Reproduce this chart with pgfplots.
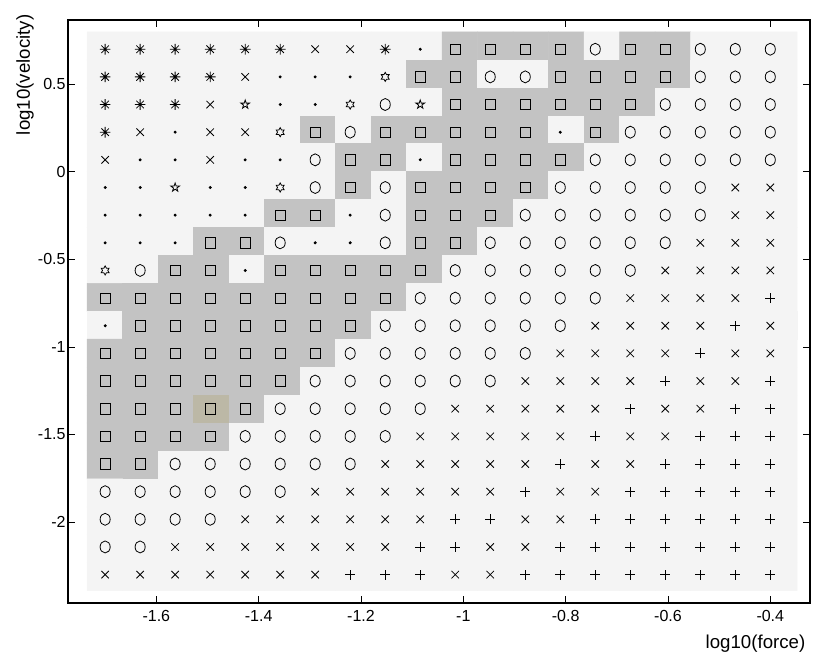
\documentclass[border=0pt]{standalone}
\usepackage{fontspec}
\setmainfont{Liberation Sans}
\usepackage{pgfplots}
\pgfplotsset{compat=1.18}
\usepackage{pgfplotstable}

\pgfdeclareplotmark{mast}{%
  \pgfpathmoveto{\pgfqpoint{-\pgfplotmarksize}{0pt}}\pgfpathlineto{\pgfqpoint{\pgfplotmarksize}{0pt}}%
  \pgfpathmoveto{\pgfqpoint{0pt}{-\pgfplotmarksize}}\pgfpathlineto{\pgfqpoint{0pt}{\pgfplotmarksize}}%
  \pgfpathmoveto{\pgfpointpolar{45}{\pgfplotmarksize}}\pgfpathlineto{\pgfpointpolar{225}{\pgfplotmarksize}}%
  \pgfpathmoveto{\pgfpointpolar{135}{\pgfplotmarksize}}\pgfpathlineto{\pgfpointpolar{315}{\pgfplotmarksize}}%
  \pgfusepathqstroke}
\pgfdeclareplotmark{mcross}{%
  \pgfpathmoveto{\pgfqpoint{-\pgfplotmarksize}{-\pgfplotmarksize}}\pgfpathlineto{\pgfqpoint{\pgfplotmarksize}{\pgfplotmarksize}}%
  \pgfpathmoveto{\pgfqpoint{-\pgfplotmarksize}{\pgfplotmarksize}}\pgfpathlineto{\pgfqpoint{\pgfplotmarksize}{-\pgfplotmarksize}}%
  \pgfusepathqstroke}
\pgfdeclareplotmark{mplus}{%
  \pgfpathmoveto{\pgfqpoint{-\pgfplotmarksize}{0pt}}\pgfpathlineto{\pgfqpoint{\pgfplotmarksize}{0pt}}%
  \pgfpathmoveto{\pgfqpoint{0pt}{-\pgfplotmarksize}}\pgfpathlineto{\pgfqpoint{0pt}{\pgfplotmarksize}}%
  \pgfusepathqstroke}
\pgfdeclareplotmark{mell}{%
  \pgfpathellipse{\pgfpointorigin}{\pgfqpoint{0.84\pgfplotmarksize}{0pt}}{\pgfqpoint{0pt}{\pgfplotmarksize}}%
  \pgfusepathqstroke}
\pgfdeclareplotmark{mpent}{%
  \pgfpathmoveto{\pgfpointpolar{90}{\pgfplotmarksize}}%
  \pgfpathlineto{\pgfpointpolar{126}{0.382\pgfplotmarksize}}%
  \pgfpathlineto{\pgfpointpolar{162}{\pgfplotmarksize}}%
  \pgfpathlineto{\pgfpointpolar{198}{0.382\pgfplotmarksize}}%
  \pgfpathlineto{\pgfpointpolar{234}{\pgfplotmarksize}}%
  \pgfpathlineto{\pgfpointpolar{270}{0.382\pgfplotmarksize}}%
  \pgfpathlineto{\pgfpointpolar{306}{\pgfplotmarksize}}%
  \pgfpathlineto{\pgfpointpolar{342}{0.382\pgfplotmarksize}}%
  \pgfpathlineto{\pgfpointpolar{18}{\pgfplotmarksize}}%
  \pgfpathlineto{\pgfpointpolar{54}{0.382\pgfplotmarksize}}%
  \pgfpathclose\pgfusepathqstroke}
\pgfdeclareplotmark{mhex}{%
  \pgfpathmoveto{\pgfpointpolar{90}{\pgfplotmarksize}}%
  \pgfpathlineto{\pgfpointpolar{120}{0.577\pgfplotmarksize}}%
  \pgfpathlineto{\pgfpointpolar{150}{\pgfplotmarksize}}%
  \pgfpathlineto{\pgfpointpolar{180}{0.577\pgfplotmarksize}}%
  \pgfpathlineto{\pgfpointpolar{210}{\pgfplotmarksize}}%
  \pgfpathlineto{\pgfpointpolar{240}{0.577\pgfplotmarksize}}%
  \pgfpathlineto{\pgfpointpolar{270}{\pgfplotmarksize}}%
  \pgfpathlineto{\pgfpointpolar{300}{0.577\pgfplotmarksize}}%
  \pgfpathlineto{\pgfpointpolar{330}{\pgfplotmarksize}}%
  \pgfpathlineto{\pgfpointpolar{0}{0.577\pgfplotmarksize}}%
  \pgfpathlineto{\pgfpointpolar{30}{\pgfplotmarksize}}%
  \pgfpathlineto{\pgfpointpolar{60}{0.577\pgfplotmarksize}}%
  \pgfpathclose\pgfusepathqstroke}

% x y = symbol position; tx ty = tile centre; c = tile shade; s = symbol class
\pgfplotstableread{
x y tx ty c s
-1.7000 0.7000 -1.7006 0.7187 0 A
-1.6316 0.7000 -1.6312 0.7187 0 A
-1.5632 0.7000 -1.5619 0.7187 0 A
-1.4947 0.7000 -1.4925 0.7187 0 A
-1.4263 0.7000 -1.4231 0.7187 0 A
-1.3579 0.7000 -1.3537 0.7187 0 A
-1.2895 0.7000 -1.2843 0.7187 0 X
-1.2211 0.7000 -1.2150 0.7187 0 X
-1.1526 0.7000 -1.1456 0.7187 0 A
-1.0842 0.7000 -1.0762 0.7187 0 D
-1.0158 0.7000 -1.0068 0.7187 1 S
-0.9474 0.7000 -0.9374 0.7187 1 S
-0.8789 0.7000 -0.8681 0.7187 1 S
-0.8105 0.7000 -0.7987 0.7187 1 S
-0.7421 0.7000 -0.7293 0.7187 0 O
-0.6737 0.7000 -0.6599 0.7187 1 S
-0.6053 0.7000 -0.5906 0.7187 1 S
-0.5368 0.7000 -0.5212 0.7187 0 O
-0.4684 0.7000 -0.4518 0.7187 0 O
-0.4000 0.7000 -0.3824 0.7187 0 O
-1.7000 0.5421 -1.7006 0.5592 0 A
-1.6316 0.5421 -1.6312 0.5592 0 A
-1.5632 0.5421 -1.5619 0.5592 0 A
-1.4947 0.5421 -1.4925 0.5592 0 A
-1.4263 0.5421 -1.4231 0.5592 0 X
-1.3579 0.5421 -1.3537 0.5592 0 D
-1.2895 0.5421 -1.2843 0.5592 0 D
-1.2211 0.5421 -1.2150 0.5592 0 D
-1.1526 0.5421 -1.1456 0.5592 0 H
-1.0842 0.5421 -1.0762 0.5592 1 S
-1.0158 0.5421 -1.0068 0.5592 1 S
-0.9474 0.5421 -0.9374 0.5592 0 O
-0.8789 0.5421 -0.8681 0.5592 0 O
-0.8105 0.5421 -0.7987 0.5592 1 S
-0.7421 0.5421 -0.7293 0.5592 1 S
-0.6737 0.5421 -0.6599 0.5592 1 S
-0.6053 0.5421 -0.5906 0.5592 1 S
-0.5368 0.5421 -0.5212 0.5592 0 O
-0.4684 0.5421 -0.4518 0.5592 0 O
-0.4000 0.5421 -0.3824 0.5592 0 O
-1.7000 0.3842 -1.7006 0.3997 0 A
-1.6316 0.3842 -1.6312 0.3997 0 A
-1.5632 0.3842 -1.5619 0.3997 0 A
-1.4947 0.3842 -1.4925 0.3997 0 X
-1.4263 0.3842 -1.4231 0.3997 0 P
-1.3579 0.3842 -1.3537 0.3997 0 D
-1.2895 0.3842 -1.2843 0.3997 0 D
-1.2211 0.3842 -1.2150 0.3997 0 H
-1.1526 0.3842 -1.1456 0.3997 0 O
-1.0842 0.3842 -1.0762 0.3997 0 P
-1.0158 0.3842 -1.0068 0.3997 1 S
-0.9474 0.3842 -0.9374 0.3997 1 S
-0.8789 0.3842 -0.8681 0.3997 1 S
-0.8105 0.3842 -0.7987 0.3997 1 S
-0.7421 0.3842 -0.7293 0.3997 1 S
-0.6737 0.3842 -0.6599 0.3997 1 S
-0.6053 0.3842 -0.5906 0.3997 0 O
-0.5368 0.3842 -0.5212 0.3997 0 O
-0.4684 0.3842 -0.4518 0.3997 0 O
-0.4000 0.3842 -0.3824 0.3997 0 O
-1.7000 0.2263 -1.7006 0.2403 0 A
-1.6316 0.2263 -1.6312 0.2403 0 X
-1.5632 0.2263 -1.5619 0.2403 0 D
-1.4947 0.2263 -1.4925 0.2403 0 X
-1.4263 0.2263 -1.4231 0.2403 0 X
-1.3579 0.2263 -1.3537 0.2403 0 H
-1.2895 0.2263 -1.2843 0.2403 1 S
-1.2211 0.2263 -1.2150 0.2403 0 O
-1.1526 0.2263 -1.1456 0.2403 1 S
-1.0842 0.2263 -1.0762 0.2403 1 S
-1.0158 0.2263 -1.0068 0.2403 1 S
-0.9474 0.2263 -0.9374 0.2403 1 S
-0.8789 0.2263 -0.8681 0.2403 1 S
-0.8105 0.2263 -0.7987 0.2403 0 D
-0.7421 0.2263 -0.7293 0.2403 1 S
-0.6737 0.2263 -0.6599 0.2403 0 O
-0.6053 0.2263 -0.5906 0.2403 0 O
-0.5368 0.2263 -0.5212 0.2403 0 O
-0.4684 0.2263 -0.4518 0.2403 0 O
-0.4000 0.2263 -0.3824 0.2403 0 O
-1.7000 0.0684 -1.7006 0.0808 0 X
-1.6316 0.0684 -1.6312 0.0808 0 D
-1.5632 0.0684 -1.5619 0.0808 0 D
-1.4947 0.0684 -1.4925 0.0808 0 X
-1.4263 0.0684 -1.4231 0.0808 0 D
-1.3579 0.0684 -1.3537 0.0808 0 D
-1.2895 0.0684 -1.2843 0.0808 0 O
-1.2211 0.0684 -1.2150 0.0808 1 S
-1.1526 0.0684 -1.1456 0.0808 1 S
-1.0842 0.0684 -1.0762 0.0808 0 D
-1.0158 0.0684 -1.0068 0.0808 1 S
-0.9474 0.0684 -0.9374 0.0808 1 S
-0.8789 0.0684 -0.8681 0.0808 1 S
-0.8105 0.0684 -0.7987 0.0808 1 S
-0.7421 0.0684 -0.7293 0.0808 0 O
-0.6737 0.0684 -0.6599 0.0808 0 O
-0.6053 0.0684 -0.5906 0.0808 0 O
-0.5368 0.0684 -0.5212 0.0808 0 O
-0.4684 0.0684 -0.4518 0.0808 0 O
-0.4000 0.0684 -0.3824 0.0808 0 O
-1.7000 -0.0895 -1.7006 -0.0787 0 D
-1.6316 -0.0895 -1.6312 -0.0787 0 D
-1.5632 -0.0895 -1.5619 -0.0787 0 P
-1.4947 -0.0895 -1.4925 -0.0787 0 D
-1.4263 -0.0895 -1.4231 -0.0787 0 D
-1.3579 -0.0895 -1.3537 -0.0787 0 H
-1.2895 -0.0895 -1.2843 -0.0787 0 O
-1.2211 -0.0895 -1.2150 -0.0787 1 S
-1.1526 -0.0895 -1.1456 -0.0787 0 O
-1.0842 -0.0895 -1.0762 -0.0787 1 S
-1.0158 -0.0895 -1.0068 -0.0787 1 S
-0.9474 -0.0895 -0.9374 -0.0787 1 S
-0.8789 -0.0895 -0.8681 -0.0787 1 S
-0.8105 -0.0895 -0.7987 -0.0787 0 O
-0.7421 -0.0895 -0.7293 -0.0787 0 O
-0.6737 -0.0895 -0.6599 -0.0787 0 O
-0.6053 -0.0895 -0.5906 -0.0787 0 O
-0.5368 -0.0895 -0.5212 -0.0787 0 O
-0.4684 -0.0895 -0.4518 -0.0787 0 X
-0.4000 -0.0895 -0.3824 -0.0787 0 X
-1.7000 -0.2474 -1.7006 -0.2382 0 D
-1.6316 -0.2474 -1.6312 -0.2382 0 D
-1.5632 -0.2474 -1.5619 -0.2382 0 D
-1.4947 -0.2474 -1.4925 -0.2382 0 D
-1.4263 -0.2474 -1.4231 -0.2382 0 D
-1.3579 -0.2474 -1.3537 -0.2382 1 S
-1.2895 -0.2474 -1.2843 -0.2382 1 S
-1.2211 -0.2474 -1.2150 -0.2382 0 D
-1.1526 -0.2474 -1.1456 -0.2382 0 O
-1.0842 -0.2474 -1.0762 -0.2382 1 S
-1.0158 -0.2474 -1.0068 -0.2382 1 S
-0.9474 -0.2474 -0.9374 -0.2382 1 S
-0.8789 -0.2474 -0.8681 -0.2382 0 O
-0.8105 -0.2474 -0.7987 -0.2382 0 O
-0.7421 -0.2474 -0.7293 -0.2382 0 O
-0.6737 -0.2474 -0.6599 -0.2382 0 O
-0.6053 -0.2474 -0.5906 -0.2382 0 O
-0.5368 -0.2474 -0.5212 -0.2382 0 O
-0.4684 -0.2474 -0.4518 -0.2382 0 X
-0.4000 -0.2474 -0.3824 -0.2382 0 X
-1.7000 -0.4053 -1.7006 -0.3977 0 D
-1.6316 -0.4053 -1.6312 -0.3977 0 D
-1.5632 -0.4053 -1.5619 -0.3977 0 D
-1.4947 -0.4053 -1.4925 -0.3977 1 S
-1.4263 -0.4053 -1.4231 -0.3977 1 S
-1.3579 -0.4053 -1.3537 -0.3977 0 O
-1.2895 -0.4053 -1.2843 -0.3977 0 D
-1.2211 -0.4053 -1.2150 -0.3977 0 D
-1.1526 -0.4053 -1.1456 -0.3977 0 O
-1.0842 -0.4053 -1.0762 -0.3977 1 S
-1.0158 -0.4053 -1.0068 -0.3977 1 S
-0.9474 -0.4053 -0.9374 -0.3977 0 O
-0.8789 -0.4053 -0.8681 -0.3977 0 O
-0.8105 -0.4053 -0.7987 -0.3977 0 O
-0.7421 -0.4053 -0.7293 -0.3977 0 O
-0.6737 -0.4053 -0.6599 -0.3977 0 O
-0.6053 -0.4053 -0.5906 -0.3977 0 O
-0.5368 -0.4053 -0.5212 -0.3977 0 X
-0.4684 -0.4053 -0.4518 -0.3977 0 X
-0.4000 -0.4053 -0.3824 -0.3977 0 X
-1.7000 -0.5632 -1.7006 -0.5571 0 H
-1.6316 -0.5632 -1.6312 -0.5571 0 O
-1.5632 -0.5632 -1.5619 -0.5571 1 S
-1.4947 -0.5632 -1.4925 -0.5571 1 S
-1.4263 -0.5632 -1.4231 -0.5571 0 D
-1.3579 -0.5632 -1.3537 -0.5571 1 S
-1.2895 -0.5632 -1.2843 -0.5571 1 S
-1.2211 -0.5632 -1.2150 -0.5571 1 S
-1.1526 -0.5632 -1.1456 -0.5571 1 S
-1.0842 -0.5632 -1.0762 -0.5571 1 S
-1.0158 -0.5632 -1.0068 -0.5571 0 O
-0.9474 -0.5632 -0.9374 -0.5571 0 O
-0.8789 -0.5632 -0.8681 -0.5571 0 O
-0.8105 -0.5632 -0.7987 -0.5571 0 O
-0.7421 -0.5632 -0.7293 -0.5571 0 O
-0.6737 -0.5632 -0.6599 -0.5571 0 O
-0.6053 -0.5632 -0.5906 -0.5571 0 X
-0.5368 -0.5632 -0.5212 -0.5571 0 X
-0.4684 -0.5632 -0.4518 -0.5571 0 X
-0.4000 -0.5632 -0.3824 -0.5571 0 X
-1.7000 -0.7211 -1.7006 -0.7166 1 S
-1.6316 -0.7211 -1.6312 -0.7166 1 S
-1.5632 -0.7211 -1.5619 -0.7166 1 S
-1.4947 -0.7211 -1.4925 -0.7166 1 S
-1.4263 -0.7211 -1.4231 -0.7166 1 S
-1.3579 -0.7211 -1.3537 -0.7166 1 S
-1.2895 -0.7211 -1.2843 -0.7166 1 S
-1.2211 -0.7211 -1.2150 -0.7166 1 S
-1.1526 -0.7211 -1.1456 -0.7166 1 S
-1.0842 -0.7211 -1.0762 -0.7166 0 O
-1.0158 -0.7211 -1.0068 -0.7166 0 O
-0.9474 -0.7211 -0.9374 -0.7166 0 O
-0.8789 -0.7211 -0.8681 -0.7166 0 O
-0.8105 -0.7211 -0.7987 -0.7166 0 O
-0.7421 -0.7211 -0.7293 -0.7166 0 O
-0.6737 -0.7211 -0.6599 -0.7166 0 X
-0.6053 -0.7211 -0.5906 -0.7166 0 X
-0.5368 -0.7211 -0.5212 -0.7166 0 X
-0.4684 -0.7211 -0.4518 -0.7166 0 X
-0.4000 -0.7211 -0.3824 -0.7166 0 C
-1.7000 -0.8789 -1.7006 -0.8761 0 D
-1.6316 -0.8789 -1.6312 -0.8761 1 S
-1.5632 -0.8789 -1.5619 -0.8761 1 S
-1.4947 -0.8789 -1.4925 -0.8761 1 S
-1.4263 -0.8789 -1.4231 -0.8761 1 S
-1.3579 -0.8789 -1.3537 -0.8761 1 S
-1.2895 -0.8789 -1.2843 -0.8761 1 S
-1.2211 -0.8789 -1.2150 -0.8761 1 S
-1.1526 -0.8789 -1.1456 -0.8761 0 O
-1.0842 -0.8789 -1.0762 -0.8761 0 O
-1.0158 -0.8789 -1.0068 -0.8761 0 O
-0.9474 -0.8789 -0.9374 -0.8761 0 O
-0.8789 -0.8789 -0.8681 -0.8761 0 O
-0.8105 -0.8789 -0.7987 -0.8761 0 O
-0.7421 -0.8789 -0.7293 -0.8761 0 X
-0.6737 -0.8789 -0.6599 -0.8761 0 X
-0.6053 -0.8789 -0.5906 -0.8761 0 X
-0.5368 -0.8789 -0.5212 -0.8761 0 X
-0.4684 -0.8789 -0.4518 -0.8761 0 C
-0.4000 -0.8789 -0.3824 -0.8761 0 X
-1.7000 -1.0368 -1.7006 -1.0356 1 S
-1.6316 -1.0368 -1.6312 -1.0356 1 S
-1.5632 -1.0368 -1.5619 -1.0356 1 S
-1.4947 -1.0368 -1.4925 -1.0356 1 S
-1.4263 -1.0368 -1.4231 -1.0356 1 S
-1.3579 -1.0368 -1.3537 -1.0356 1 S
-1.2895 -1.0368 -1.2843 -1.0356 1 S
-1.2211 -1.0368 -1.2150 -1.0356 0 O
-1.1526 -1.0368 -1.1456 -1.0356 0 O
-1.0842 -1.0368 -1.0762 -1.0356 0 O
-1.0158 -1.0368 -1.0068 -1.0356 0 O
-0.9474 -1.0368 -0.9374 -1.0356 0 O
-0.8789 -1.0368 -0.8681 -1.0356 0 O
-0.8105 -1.0368 -0.7987 -1.0356 0 X
-0.7421 -1.0368 -0.7293 -1.0356 0 X
-0.6737 -1.0368 -0.6599 -1.0356 0 X
-0.6053 -1.0368 -0.5906 -1.0356 0 X
-0.5368 -1.0368 -0.5212 -1.0356 0 C
-0.4684 -1.0368 -0.4518 -1.0356 0 X
-0.4000 -1.0368 -0.3824 -1.0356 0 X
-1.7000 -1.1947 -1.7006 -1.1950 1 S
-1.6316 -1.1947 -1.6312 -1.1950 1 S
-1.5632 -1.1947 -1.5619 -1.1950 1 S
-1.4947 -1.1947 -1.4925 -1.1950 1 S
-1.4263 -1.1947 -1.4231 -1.1950 1 S
-1.3579 -1.1947 -1.3537 -1.1950 1 S
-1.2895 -1.1947 -1.2843 -1.1950 0 O
-1.2211 -1.1947 -1.2150 -1.1950 0 O
-1.1526 -1.1947 -1.1456 -1.1950 0 O
-1.0842 -1.1947 -1.0762 -1.1950 0 O
-1.0158 -1.1947 -1.0068 -1.1950 0 O
-0.9474 -1.1947 -0.9374 -1.1950 0 O
-0.8789 -1.1947 -0.8681 -1.1950 0 X
-0.8105 -1.1947 -0.7987 -1.1950 0 X
-0.7421 -1.1947 -0.7293 -1.1950 0 X
-0.6737 -1.1947 -0.6599 -1.1950 0 X
-0.6053 -1.1947 -0.5906 -1.1950 0 C
-0.5368 -1.1947 -0.5212 -1.1950 0 X
-0.4684 -1.1947 -0.4518 -1.1950 0 X
-0.4000 -1.1947 -0.3824 -1.1950 0 C
-1.7000 -1.3526 -1.7006 -1.3545 1 S
-1.6316 -1.3526 -1.6312 -1.3545 1 S
-1.5632 -1.3526 -1.5619 -1.3545 1 S
-1.4947 -1.3526 -1.4925 -1.3545 2 S
-1.4263 -1.3526 -1.4231 -1.3545 1 S
-1.3579 -1.3526 -1.3537 -1.3545 0 O
-1.2895 -1.3526 -1.2843 -1.3545 0 O
-1.2211 -1.3526 -1.2150 -1.3545 0 O
-1.1526 -1.3526 -1.1456 -1.3545 0 O
-1.0842 -1.3526 -1.0762 -1.3545 0 O
-1.0158 -1.3526 -1.0068 -1.3545 0 X
-0.9474 -1.3526 -0.9374 -1.3545 0 X
-0.8789 -1.3526 -0.8681 -1.3545 0 X
-0.8105 -1.3526 -0.7987 -1.3545 0 X
-0.7421 -1.3526 -0.7293 -1.3545 0 X
-0.6737 -1.3526 -0.6599 -1.3545 0 C
-0.6053 -1.3526 -0.5906 -1.3545 0 X
-0.5368 -1.3526 -0.5212 -1.3545 0 X
-0.4684 -1.3526 -0.4518 -1.3545 0 C
-0.4000 -1.3526 -0.3824 -1.3545 0 C
-1.7000 -1.5105 -1.7006 -1.5140 1 S
-1.6316 -1.5105 -1.6312 -1.5140 1 S
-1.5632 -1.5105 -1.5619 -1.5140 1 S
-1.4947 -1.5105 -1.4925 -1.5140 1 S
-1.4263 -1.5105 -1.4231 -1.5140 0 O
-1.3579 -1.5105 -1.3537 -1.5140 0 O
-1.2895 -1.5105 -1.2843 -1.5140 0 O
-1.2211 -1.5105 -1.2150 -1.5140 0 O
-1.1526 -1.5105 -1.1456 -1.5140 0 O
-1.0842 -1.5105 -1.0762 -1.5140 0 X
-1.0158 -1.5105 -1.0068 -1.5140 0 X
-0.9474 -1.5105 -0.9374 -1.5140 0 X
-0.8789 -1.5105 -0.8681 -1.5140 0 X
-0.8105 -1.5105 -0.7987 -1.5140 0 X
-0.7421 -1.5105 -0.7293 -1.5140 0 C
-0.6737 -1.5105 -0.6599 -1.5140 0 X
-0.6053 -1.5105 -0.5906 -1.5140 0 X
-0.5368 -1.5105 -0.5212 -1.5140 0 C
-0.4684 -1.5105 -0.4518 -1.5140 0 C
-0.4000 -1.5105 -0.3824 -1.5140 0 C
-1.7000 -1.6684 -1.7006 -1.6735 1 S
-1.6316 -1.6684 -1.6312 -1.6735 1 S
-1.5632 -1.6684 -1.5619 -1.6735 0 O
-1.4947 -1.6684 -1.4925 -1.6735 0 O
-1.4263 -1.6684 -1.4231 -1.6735 0 O
-1.3579 -1.6684 -1.3537 -1.6735 0 O
-1.2895 -1.6684 -1.2843 -1.6735 0 O
-1.2211 -1.6684 -1.2150 -1.6735 0 O
-1.1526 -1.6684 -1.1456 -1.6735 0 X
-1.0842 -1.6684 -1.0762 -1.6735 0 X
-1.0158 -1.6684 -1.0068 -1.6735 0 X
-0.9474 -1.6684 -0.9374 -1.6735 0 X
-0.8789 -1.6684 -0.8681 -1.6735 0 X
-0.8105 -1.6684 -0.7987 -1.6735 0 C
-0.7421 -1.6684 -0.7293 -1.6735 0 X
-0.6737 -1.6684 -0.6599 -1.6735 0 X
-0.6053 -1.6684 -0.5906 -1.6735 0 C
-0.5368 -1.6684 -0.5212 -1.6735 0 C
-0.4684 -1.6684 -0.4518 -1.6735 0 C
-0.4000 -1.6684 -0.3824 -1.6735 0 C
-1.7000 -1.8263 -1.7006 -1.8330 0 O
-1.6316 -1.8263 -1.6312 -1.8330 0 O
-1.5632 -1.8263 -1.5619 -1.8330 0 O
-1.4947 -1.8263 -1.4925 -1.8330 0 O
-1.4263 -1.8263 -1.4231 -1.8330 0 O
-1.3579 -1.8263 -1.3537 -1.8330 0 O
-1.2895 -1.8263 -1.2843 -1.8330 0 X
-1.2211 -1.8263 -1.2150 -1.8330 0 X
-1.1526 -1.8263 -1.1456 -1.8330 0 X
-1.0842 -1.8263 -1.0762 -1.8330 0 X
-1.0158 -1.8263 -1.0068 -1.8330 0 X
-0.9474 -1.8263 -0.9374 -1.8330 0 X
-0.8789 -1.8263 -0.8681 -1.8330 0 C
-0.8105 -1.8263 -0.7987 -1.8330 0 X
-0.7421 -1.8263 -0.7293 -1.8330 0 X
-0.6737 -1.8263 -0.6599 -1.8330 0 C
-0.6053 -1.8263 -0.5906 -1.8330 0 C
-0.5368 -1.8263 -0.5212 -1.8330 0 C
-0.4684 -1.8263 -0.4518 -1.8330 0 C
-0.4000 -1.8263 -0.3824 -1.8330 0 C
-1.7000 -1.9842 -1.7006 -1.9924 0 O
-1.6316 -1.9842 -1.6312 -1.9924 0 O
-1.5632 -1.9842 -1.5619 -1.9924 0 O
-1.4947 -1.9842 -1.4925 -1.9924 0 O
-1.4263 -1.9842 -1.4231 -1.9924 0 X
-1.3579 -1.9842 -1.3537 -1.9924 0 X
-1.2895 -1.9842 -1.2843 -1.9924 0 X
-1.2211 -1.9842 -1.2150 -1.9924 0 X
-1.1526 -1.9842 -1.1456 -1.9924 0 X
-1.0842 -1.9842 -1.0762 -1.9924 0 X
-1.0158 -1.9842 -1.0068 -1.9924 0 C
-0.9474 -1.9842 -0.9374 -1.9924 0 C
-0.8789 -1.9842 -0.8681 -1.9924 0 X
-0.8105 -1.9842 -0.7987 -1.9924 0 X
-0.7421 -1.9842 -0.7293 -1.9924 0 C
-0.6737 -1.9842 -0.6599 -1.9924 0 C
-0.6053 -1.9842 -0.5906 -1.9924 0 C
-0.5368 -1.9842 -0.5212 -1.9924 0 C
-0.4684 -1.9842 -0.4518 -1.9924 0 C
-0.4000 -1.9842 -0.3824 -1.9924 0 C
-1.7000 -2.1421 -1.7006 -2.1519 0 O
-1.6316 -2.1421 -1.6312 -2.1519 0 O
-1.5632 -2.1421 -1.5619 -2.1519 0 X
-1.4947 -2.1421 -1.4925 -2.1519 0 X
-1.4263 -2.1421 -1.4231 -2.1519 0 X
-1.3579 -2.1421 -1.3537 -2.1519 0 X
-1.2895 -2.1421 -1.2843 -2.1519 0 X
-1.2211 -2.1421 -1.2150 -2.1519 0 X
-1.1526 -2.1421 -1.1456 -2.1519 0 X
-1.0842 -2.1421 -1.0762 -2.1519 0 C
-1.0158 -2.1421 -1.0068 -2.1519 0 C
-0.9474 -2.1421 -0.9374 -2.1519 0 X
-0.8789 -2.1421 -0.8681 -2.1519 0 X
-0.8105 -2.1421 -0.7987 -2.1519 0 C
-0.7421 -2.1421 -0.7293 -2.1519 0 C
-0.6737 -2.1421 -0.6599 -2.1519 0 C
-0.6053 -2.1421 -0.5906 -2.1519 0 C
-0.5368 -2.1421 -0.5212 -2.1519 0 C
-0.4684 -2.1421 -0.4518 -2.1519 0 C
-0.4000 -2.1421 -0.3824 -2.1519 0 C
-1.7000 -2.3000 -1.7006 -2.3114 0 X
-1.6316 -2.3000 -1.6312 -2.3114 0 X
-1.5632 -2.3000 -1.5619 -2.3114 0 X
-1.4947 -2.3000 -1.4925 -2.3114 0 X
-1.4263 -2.3000 -1.4231 -2.3114 0 X
-1.3579 -2.3000 -1.3537 -2.3114 0 X
-1.2895 -2.3000 -1.2843 -2.3114 0 X
-1.2211 -2.3000 -1.2150 -2.3114 0 C
-1.1526 -2.3000 -1.1456 -2.3114 0 C
-1.0842 -2.3000 -1.0762 -2.3114 0 C
-1.0158 -2.3000 -1.0068 -2.3114 0 X
-0.9474 -2.3000 -0.9374 -2.3114 0 X
-0.8789 -2.3000 -0.8681 -2.3114 0 C
-0.8105 -2.3000 -0.7987 -2.3114 0 C
-0.7421 -2.3000 -0.7293 -2.3114 0 C
-0.6737 -2.3000 -0.6599 -2.3114 0 C
-0.6053 -2.3000 -0.5906 -2.3114 0 C
-0.5368 -2.3000 -0.5212 -2.3114 0 C
-0.4684 -2.3000 -0.4518 -2.3114 0 C
-0.4000 -2.3000 -0.3824 -2.3114 0 C
}\grid

\begin{document}
\begin{tikzpicture}
\begin{axis}[
  scale only axis,
  width=556.5pt, height=437.25pt,
  xmin=-1.7726, xmax=-0.3224, ymin=-2.462, ymax=0.867,
  xtick={-1.6,-1.4,-1.2,-1,-0.8,-0.6,-0.4},
  xticklabels={-1.6,-1.4,-1.2,-1,-0.8,-0.6,-0.4},
  ytick={-2,-1.5,-1,-0.5,0,0.5},
  yticklabels={-2,-1.5,-1,-0.5,0,0.5},
  tick align=inside,
  major tick length=5pt,
  tick style={black, line width=0.6pt},
  axis line style={black, line width=1pt},
  axis on top,
  ticklabel style={font=\fontsize{12}{14}\selectfont},
  xticklabel style={yshift=-1.8pt},
  yticklabel style={xshift=1.7pt},
  label style={font=\fontsize{14}{16}\selectfont},
  xlabel={log10(force)},
  ylabel={log10(velocity)},
  xlabel style={at={(axis description cs:1,-0.0772)}, anchor=base east},
  ylabel style={at={(axis description cs:-0.0515,1.0172)}, anchor=base east},
  colormap={tiles}{rgb255=(244,244,244) rgb255=(195,195,195) rgb255=(188,184,166)},
  point meta min=0, point meta max=2,
]
\addplot[matrix plot*, mesh/cols=20, point meta=explicit] table[x=tx, y=ty, meta=c] {\grid};
\addplot[
  scatter, only marks, black,
  scatter src=explicit symbolic,
  mark options={draw=black, fill=black, line width=0.6pt},
  scatter/classes={
    A={mark=mast, mark size=4pt},
    X={mark=mcross, mark size=2.8pt},
    C={mark=mplus, mark size=3.75pt},
    D={mark=*, mark size=0.8pt},
    P={mark=mpent, mark size=3.4pt},
    H={mark=mhex, mark size=3.4pt},
    O={mark=mell, mark size=4.5pt},
    S={mark=square, mark size=3.9pt}}
] table[x=x, y=y, meta=s] {\grid};
\end{axis}
\pgfresetboundingbox
\path[use as bounding box] (-51pt,-39pt) rectangle (561.75pt,452.25pt);
\end{tikzpicture}
\end{document}
